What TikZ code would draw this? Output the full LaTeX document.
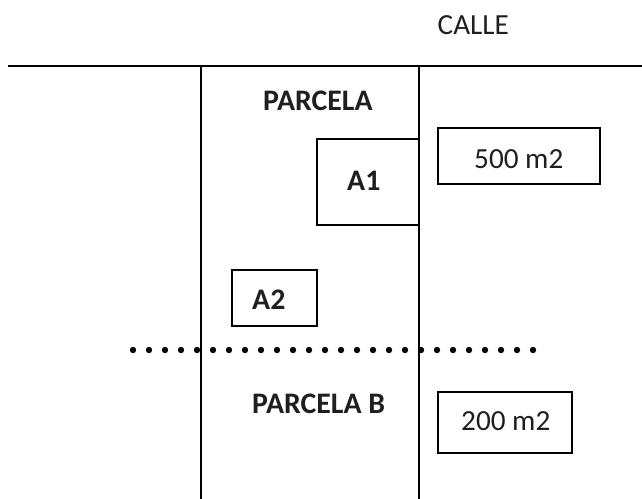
\documentclass[tikz,border=0pt]{standalone}
\usepackage{fontspec}
\setmainfont{Carlito}
\begin{document}
\begin{tikzpicture}[x=1pt,y=-1pt,
  lbl/.style={inner sep=0pt,anchor=base west,font=\fontsize{29.2}{34}\selectfont,text=black!88},
  blbl/.style={lbl,font=\fontsize{29.8}{34}\selectfont\bfseries},
  box/.style={draw,line width=2pt},
  wall/.style={line width=2pt}]
\useasboundingbox (0,0) rectangle (642,498);
% street line and parcel walls
\draw[wall] (8,66) -- (642,66);
\draw[wall] (200.5,66) -- (200.5,500);
\draw[wall] (419,66) -- (419,500);
% boxes
\draw[box] (317,139) rectangle (419,225);
\draw[box] (232,270) rectangle (317,326);
\draw[box] (438,128) rectangle (600,184);
\draw[box] (438,392) rectangle (572,453);
% dotted divider
\foreach \i in {0,...,25} \fill (133+16*\i,350) circle (3.2);
% texts
\node[lbl] (calle) at (437.5,34) {CALLE};
\node[blbl] (parcela) at (263,110) {PARCELA};
\node[blbl] (a1) at (347,190) {A1};
\node[blbl] (a2) at (252,309) {A2};
\node[blbl] (parcelab) at (252,413) {PARCELA B};
\node[lbl] (s500) at (474,168) {500 m2};
\node[lbl] (s200) at (461,430) {200 m2};
\end{tikzpicture}
\end{document}
